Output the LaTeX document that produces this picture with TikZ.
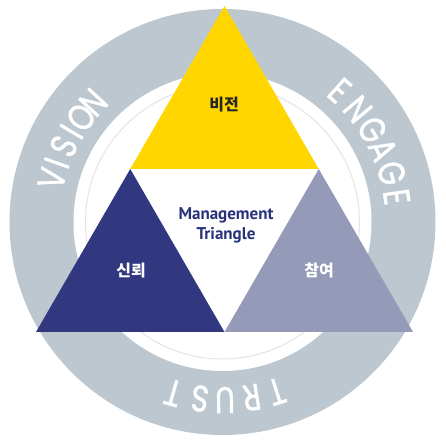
\documentclass[tikz,border=0pt]{standalone}
\usepackage{fontspec}
\newfontfamily\krfont{Noto Sans CJK KR}
\newfontfamily\ringfont[FakeStretch=0.8,FakeBold=1.2]{Poppins}
\newfontfamily\mtfont{PT Sans}
\definecolor{ringgray}{RGB}{188,199,207}
\definecolor{tyellow}{RGB}{255,214,0}
\definecolor{tblue}{RGB}{50,56,128}
\definecolor{tgray}{RGB}{148,154,184}
\definecolor{mtblue}{RGB}{40,50,122}
\definecolor{thinline}{RGB}{228,228,230}
\tikzset{
  ringletter/.style={text=white, inner sep=0pt, font=\ringfont\fontsize{37}{37}\selectfont},
  krlabel/.style={inner sep=0pt, font=\krfont\bfseries\fontsize{16}{17}\selectfont},
  mtlabel/.style={inner sep=0pt, text=mtblue, font=\mtfont\bfseries\fontsize{17}{18}\selectfont}
}
\begin{document}
\begin{tikzpicture}[x=1pt,y=1pt]
\useasboundingbox (0,0) rectangle (445,447);
\fill[white] (0,0) rectangle (445,447);
\coordinate (C) at (222.5,225);
\fill[ringgray] (C) circle[radius=213];
\fill[white] (C) circle[radius=149];
\draw[thinline, line width=1pt] (C) circle[radius=137];
% triangle corners and midpoints
\coordinate (A) at (224.5,441);
\coordinate (B) at (36,115);
\coordinate (D) at (413,115);
\coordinate (AB) at (130.25,278);
\coordinate (AD) at (318.75,278);
\coordinate (BD) at (224.5,115);
\fill[tyellow] (A) -- (AD) -- (AB) -- cycle;
\fill[tblue] (AB) -- (BD) -- (B) -- cycle;
\fill[tgray] (AD) -- (D) -- (BD) -- cycle;
% labels
\node[krlabel, text=black!85] (vision) at (224,342) {비전};
\node[krlabel, text=white] (trust) at (131,176) {신뢰};
\node[krlabel, text=white] (engage) at (319,176) {참여};
\node[mtlabel] (mgmt) at (226,232) {Management};
\node[mtlabel] (tri) at (226,212) {Triangle};
% ring words
\foreach \l/\a [count=\i] in {V/165.7, I/160.4, S/154.5, I/149.1, O/143.5, N/137.2}
  \node[ringletter, rotate=\a-90] (v\i) at ([shift={(\a:176)}]C) {\l};
\foreach \l/\a [count=\i] in {E/48.3, N/39.8, G/31.6, A/24.3, G/16.1, E/8.2}
  \node[ringletter, rotate=\a-90] (e\i) at ([shift={(\a:176)}]C) {\l};
\foreach \l/\a [count=\i] in {T/-72.3, R/-80.6, U/-89.2, S/-97.3, T/-106.1}
  \node[ringletter, rotate=\a-90] (t\i) at ([shift={(\a:178)}]C) {\l};
\end{tikzpicture}
\end{document}
